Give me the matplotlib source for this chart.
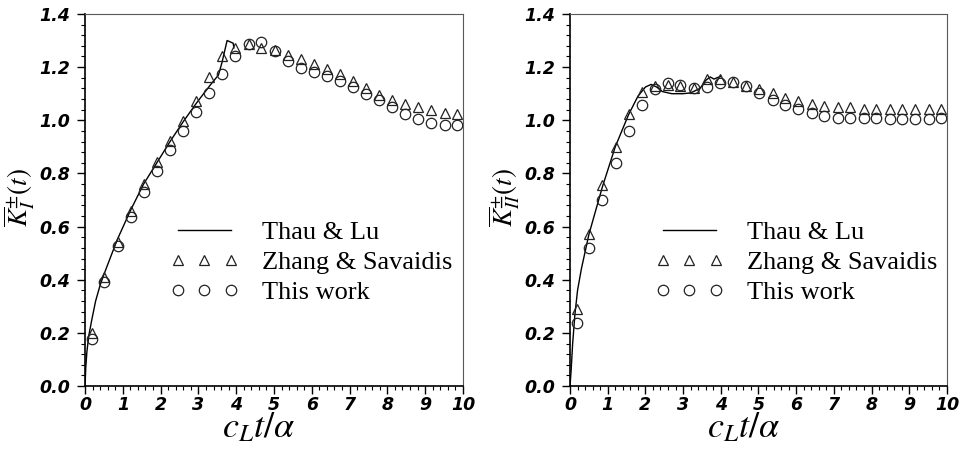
import numpy as np
import matplotlib.pyplot as plt
from matplotlib.ticker import MultipleLocator

plt.rcParams["mathtext.fontset"] = "stix"

# ----------------------------
# Data
# ----------------------------
X_MARK = [0.18, 0.51, 0.86, 1.21, 1.56, 1.91, 2.25, 2.59, 2.93, 3.28,
          3.63, 3.98, 4.33, 4.67, 5.02, 5.38, 5.71, 6.06, 6.41, 6.75,
          7.10, 7.43, 7.79, 8.13, 8.48, 8.81, 9.16, 9.52, 9.85]

# Mode I
KI_ZS = [0.198, 0.409, 0.543, 0.660, 0.759, 0.842, 0.922, 0.998, 1.074, 1.164,
         1.243, 1.273, 1.286, 1.273, 1.264, 1.246, 1.229, 1.212, 1.193, 1.174,
         1.149, 1.122, 1.096, 1.076, 1.061, 1.049, 1.037, 1.028, 1.022]
KI_THIS = [0.179, 0.392, 0.528, 0.637, 0.729, 0.810, 0.888, 0.961, 1.032, 1.104,
           1.174, 1.242, 1.287, 1.293, 1.262, 1.223, 1.196, 1.180, 1.165, 1.147,
           1.124, 1.100, 1.076, 1.051, 1.025, 1.004, 0.991, 0.982, 0.982]
KI_TL_X = [0, 0.02, 0.05, 0.10, 0.18, 0.28, 0.40, 0.50, 0.85, 1.20, 1.55, 1.90,
           2.25, 2.60, 2.95, 3.30, 3.53, 3.62, 3.76, 3.92, 3.94]
KI_TL_Y = [0, 0.07, 0.13, 0.19, 0.25, 0.32, 0.38, 0.42, 0.55, 0.66, 0.76, 0.84,
           0.92, 0.995, 1.065, 1.13, 1.17, 1.215, 1.300, 1.290, 1.272]

# Mode II
KII_ZS = [0.290, 0.571, 0.756, 0.901, 1.022, 1.105, 1.130, 1.134, 1.130, 1.122,
          1.155, 1.155, 1.145, 1.129, 1.118, 1.104, 1.085, 1.074, 1.062, 1.055,
          1.051, 1.049, 1.043, 1.042, 1.042, 1.041, 1.041, 1.041, 1.041]
KII_THIS = [0.238, 0.518, 0.700, 0.840, 0.960, 1.057, 1.118, 1.141, 1.131, 1.121,
            1.124, 1.139, 1.143, 1.129, 1.101, 1.076, 1.057, 1.042, 1.028, 1.016,
            1.010, 1.007, 1.007, 1.007, 1.006, 1.006, 1.006, 1.006, 1.007]
KII_TL_X = [0, 0.03, 0.07, 0.13, 0.20, 0.30, 0.50, 0.70, 0.86, 1.20, 1.55, 1.80,
            2.00, 2.15, 2.30, 2.45, 2.70, 3.00, 3.20, 3.45, 3.60, 3.72, 3.82,
            3.90, 4.00]
KII_TL_Y = [0, 0.06, 0.16, 0.27, 0.36, 0.44, 0.57, 0.67, 0.75, 0.90, 1.02, 1.09,
            1.125, 1.135, 1.125, 1.108, 1.100, 1.100, 1.103, 1.120, 1.150, 1.163,
            1.155, 1.160, 1.165]

LEGEND_LABELS = ["Thau & Lu", "Zhang & Savaidis", "This work"]
YLABELS = [r"$\overline{K}_{I}^{\pm}(t)$", r"$\overline{K}_{II}^{\pm}(t)$"]
XLABEL = r"$c_L t/\alpha$"

# ----------------------------
# Plot
# ----------------------------
fig = plt.figure(figsize=(9.64, 4.5), dpi=100)
ax1 = fig.add_axes([0.0882, 0.142, 0.392, 0.827])
ax2 = fig.add_axes([0.5913, 0.142, 0.391, 0.827])

panels = [
    (ax1, KI_TL_X, KI_TL_Y, KI_ZS, KI_THIS, YLABELS[0]),
    (ax2, KII_TL_X, KII_TL_Y, KII_ZS, KII_THIS, YLABELS[1]),
]

tick_font = dict(family="DejaVu Sans", style="italic", weight="bold", size=12.5)
leg_font = dict(family="Liberation Serif", size=19)

for ax, tx, ty, zs, tw, ylab in panels:
    ax.plot(tx, ty, color="black", lw=1.0, label=LEGEND_LABELS[0])
    ax.plot(X_MARK, zs, ls="none", marker="^", ms=7, mfc="none",
            mec="#222222", mew=0.9, label=LEGEND_LABELS[1])
    ax.plot(X_MARK, tw, ls="none", marker="o", ms=7.5, mfc="none",
            mec="#222222", mew=0.9, label=LEGEND_LABELS[2])

    ax.set_xlim(0, 10)
    ax.set_ylim(0, 1.4)
    ax.xaxis.set_major_locator(MultipleLocator(1))
    ax.xaxis.set_minor_locator(MultipleLocator(0.2))
    ax.yaxis.set_major_locator(MultipleLocator(0.2))
    ax.yaxis.set_minor_locator(MultipleLocator(0.04))
    ax.yaxis.set_major_formatter(plt.FuncFormatter(lambda v, p: f"{v:.1f}"))
    ax.tick_params(which="major", direction="out", length=5.5, width=1)
    ax.tick_params(which="minor", direction="out", length=3, width=0.8)
    ax.tick_params(axis="x", which="major", pad=1.5)
    ax.tick_params(axis="y", which="major", pad=5)
    for lbl in ax.get_xticklabels() + ax.get_yticklabels():
        lbl.set(**tick_font)

    for side in ["left", "bottom"]:
        ax.spines[side].set_linewidth(1.2)
    for side in ["top", "right"]:
        ax.spines[side].set_linewidth(0.8)
        ax.spines[side].set_color("0.35")

    ax.set_xlabel(XLABEL, fontsize=26)
    ax.set_ylabel(ylab, fontsize=19.5)
    ax.xaxis.set_label_coords(0.46, -0.066)
    ax.yaxis.set_label_coords(-0.128, 0.508)

    ax.legend(loc="upper left", bbox_to_anchor=(0.225, 0.445), frameon=False,
              numpoints=3, handlelength=2.6, handletextpad=0.9,
              labelspacing=0.25, borderpad=0, borderaxespad=0, prop=leg_font)

fig.savefig("out.png", dpi=100)
